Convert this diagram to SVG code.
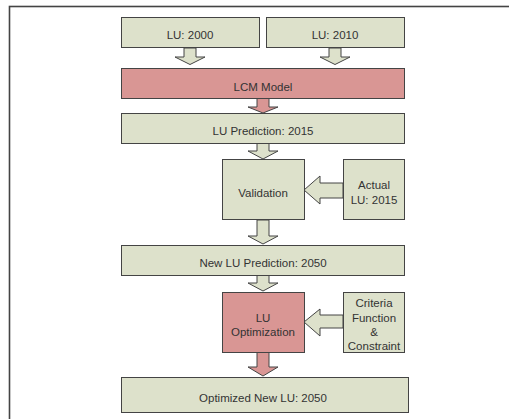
<svg xmlns="http://www.w3.org/2000/svg" width="509" height="419" viewBox="0 0 509 419">
<style>
.g{fill:#dde1cb;stroke:#444;stroke-width:1}
.p{fill:#d99694;stroke:#444;stroke-width:1}
text{font-family:"Liberation Sans",Arial,sans-serif;font-size:11.5px;fill:#333;text-anchor:middle}
</style>
<rect x="0" y="0" width="509" height="419" fill="#fff"/>
<rect x="9.5" y="6.5" width="520" height="430" fill="none" stroke="#444" stroke-width="1.6"/>
<g id="connectors">
<polygon class="g" points="184,48 196,48 196,57 205,57 190,64.5 175,57 184,57"/>
<polygon class="g" points="329,48 341,48 341,57 350,57 335,64.5 320,57 329,57"/>
<polygon class="p" points="257,98 269,98 269,107 278,107 263,113 248,107 257,107"/>
<polygon class="g" points="257,143 269,143 269,151 278,151 263,159 248,151 257,151"/>
<polygon class="g" points="343,183 320,183 320,176 304,190 320,204 320,198 343,198"/>
<polygon class="g" points="257,220 269,220 269,236 278,236 263,244 248,236 257,236"/>
<polygon class="g" points="257,275 269,275 269,283 278,283 263,291 248,283 257,283"/>
<polygon class="g" points="343,315 320,315 320,309 304,322 320,336 320,328 343,328"/>
<polygon class="p" points="257,352 269,352 269,367 278,367 263,376 248,367 257,367"/>
</g>
<g id="lu2000"><rect class="g" x="121.5" y="17.5" width="138" height="30"/><text x="190" y="39">LU: 2000</text></g>
<g id="lu2010"><rect class="g" x="266.5" y="17.5" width="138" height="30"/><text x="335" y="39">LU: 2010</text></g>
<g id="lcm"><rect class="p" x="121.5" y="68.5" width="283" height="30"/><text x="263" y="91">LCM Model</text></g>
<g id="pred2015"><rect class="g" x="121.5" y="113.5" width="283" height="30"/><text x="263" y="135">LU Prediction: 2015</text></g>
<g id="validation"><rect class="g" x="222.5" y="159.5" width="82" height="60"/><text x="263" y="197">Validation</text></g>
<g id="actual"><rect class="g" x="343.5" y="159.5" width="61" height="60"/><text x="374" y="189">Actual</text><text x="374" y="204">LU: 2015</text></g>
<g id="pred2050"><rect class="g" x="121.5" y="245.5" width="283" height="30"/><text x="263" y="267">New LU Prediction: 2050</text></g>
<g id="optimization"><rect class="p" x="222.5" y="292.5" width="82" height="60"/><text x="263" y="322">LU</text><text x="263" y="336">Optimization</text></g>
<g id="criteria"><rect class="g" x="343.5" y="292.5" width="61" height="60"/><text x="374" y="307">Criteria</text><text x="374" y="322">Function</text><text x="374" y="336">&amp;</text><text x="374" y="350">Constraint</text></g>
<g id="optimized"><rect class="g" x="121.5" y="377.5" width="287" height="35"/><text x="263" y="402">Optimized New LU: 2050</text></g>
</svg>
